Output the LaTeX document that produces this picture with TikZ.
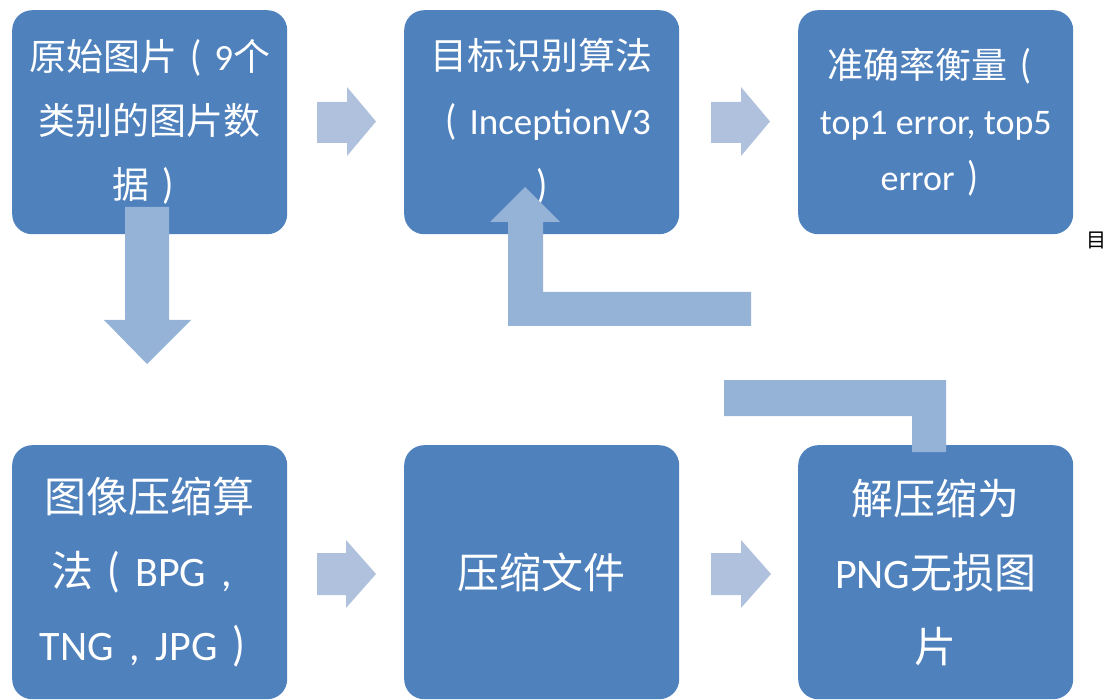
\documentclass[tikz,border=0pt]{standalone}
\usepackage{fontspec}
\setmainfont{Carlito}
\newfontfamily\cjk{Noto Sans CJK SC}
\newcommand{\lpar}{\makebox[1em]{\scalebox{1}[1.15]{(}}}
\newcommand{\rpar}{\makebox[1em]{\scalebox{1}[1.15]{)}}}
\newcommand{\fcomma}{\makebox[1em]{,}}
\definecolor{boxblue}{HTML}{4F81BD}
\definecolor{arrowlight}{HTML}{AFC1DC}
\definecolor{arrowmid}{HTML}{95B3D7}
\tikzset{
  stepbox/.style={fill=boxblue, rounded corners=20pt, anchor=north west,
    minimum width=275pt, inner sep=0pt, text=white, align=center},
  toprow/.style={stepbox, minimum height=224pt},
  botrow/.style={stepbox, minimum height=254pt, font=\fontsize{42}{74}\selectfont},
  lightarrow/.style={fill=arrowlight},
  midarrow/.style={fill=arrowmid},
}
\begin{document}
\begin{tikzpicture}[x=1pt,y=-1pt]
\useasboundingbox (0,0) rectangle (1113,700);

% top row
\node[toprow, font=\fontsize{37}{64}\selectfont] (b1) at (12,10)
  {{\cjk 原始图片}\lpar 9{\cjk 个}\\{\cjk 类别的图片数}\\{\cjk 据}\rpar};
\node[toprow, font=\fontsize{37}{65}\selectfont] (b2) at (404,10)
  {{\cjk 目标识别算法}\\\lpar InceptionV3\\\scalebox{1}[1.15]{)}};
\node[toprow, font=\fontsize{36}{56}\selectfont] (b3) at (798,10)
  {{\cjk 准确率衡量}\lpar\\top1 error, top5\\error\rpar};

% bottom row
\node[botrow] (b4) at (12,445)
  {{\cjk 图像压缩算}\\{\cjk 法}\lpar BPG\fcomma\\TNG\fcomma JPG\rpar};
\node[botrow] (b5) at (404,445) {{\cjk 压缩文件}};
\node[botrow] (b6) at (798,445)
  {{\cjk 解压缩为}\\PNG{\cjk 无损图}\\{\cjk 片}};

% stray character
\node[font=\cjk\fontsize{20}{20}\selectfont, text=black, inner sep=0pt] (stray) at (1096,240) {目};

% right block arrows, top row
\fill[lightarrow] (317,102) -- (347,102) -- (347,87) -- (376,121.5) -- (347,156) -- (347,143) -- (317,143) -- cycle;
\fill[lightarrow] (711,102) -- (741,102) -- (741,87) -- (770,121.5) -- (741,156) -- (741,143) -- (711,143) -- cycle;
% right block arrows, bottom row
\fill[lightarrow] (317,553) -- (346,553) -- (346,540) -- (376,574) -- (346,608) -- (346,595) -- (317,595) -- cycle;
\fill[lightarrow] (711,553) -- (741,553) -- (741,540) -- (771,574) -- (741,608) -- (741,595) -- (711,595) -- cycle;

% down arrow from b1 to b4
\fill[midarrow] (125,207) -- (169,207) -- (169,320) -- (191,320) -- (147,364) -- (104,320) -- (125,320) -- cycle;

% elbow arrow up into b2
\fill[midarrow] (525,187) -- (560,222) -- (543,222) -- (543,292) -- (751,292) -- (751,326) -- (508,326) -- (508,222) -- (490,222) -- cycle;

% bracket rising from b6
\fill[midarrow] (724,380) -- (946,380) -- (946,452) -- (912,452) -- (912,416) -- (724,416) -- cycle;
\end{tikzpicture}
\end{document}
